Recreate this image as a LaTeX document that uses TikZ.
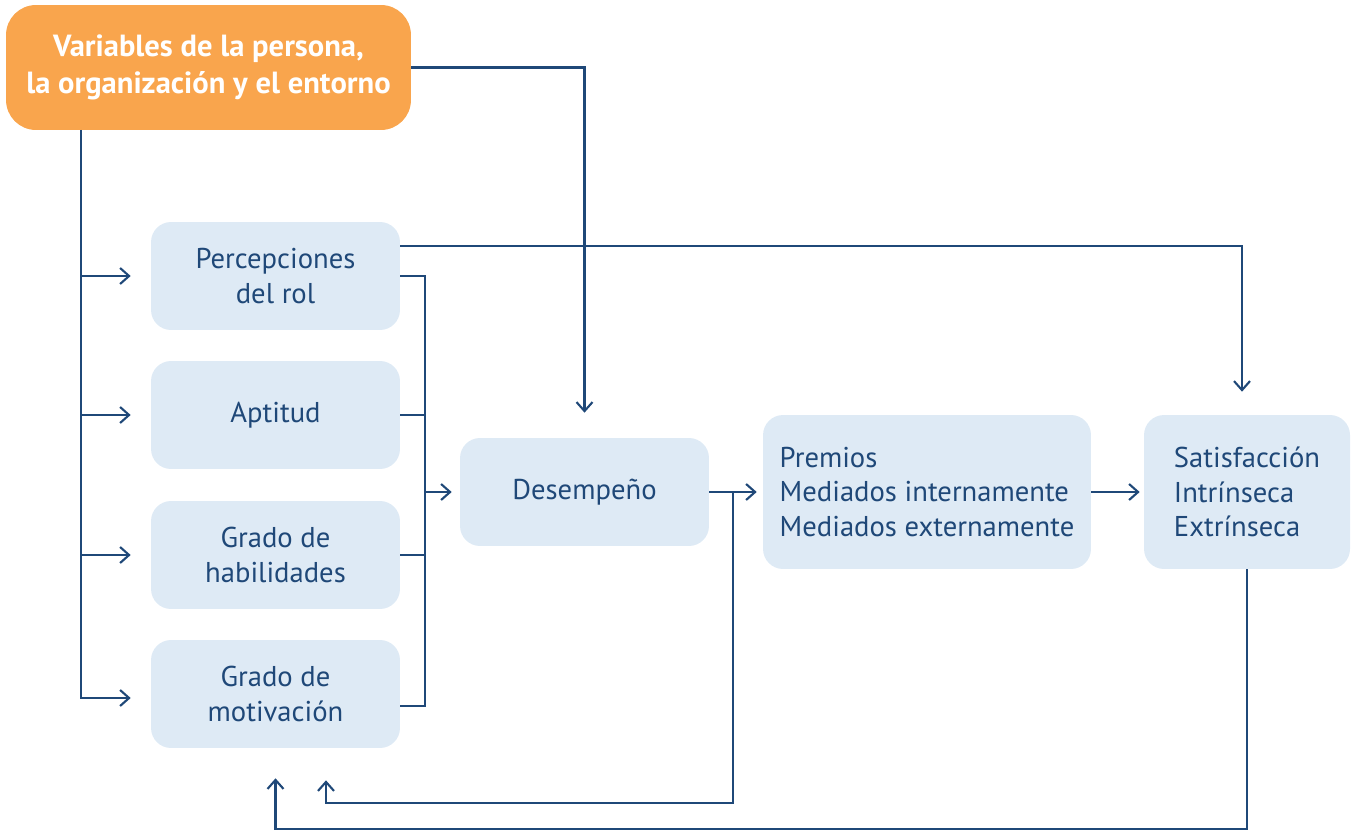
\documentclass[tikz,border=0pt]{standalone}
\usepackage{fontspec}
\setmainfont{PT Sans}
\usetikzlibrary{arrows.meta}
\definecolor{naranja}{HTML}{F9A54D}
\definecolor{celeste}{HTML}{DEEAF5}
\definecolor{azul}{HTML}{1F4878}
\begin{document}
\begin{tikzpicture}[x=0.02cm, y=-0.02cm,
		caja/.style={fill=celeste, rounded corners=0.4cm, text=azul, align=center,
			minimum width=4.98cm, minimum height=2.16cm, inner sep=0pt,
			font=\fontsize{16.3}{19.8}\selectfont},
		linea/.style={draw=azul, line width=1.2pt},
		flecha/.style={linea, -{Straight Barb[length=1.8mm, width=3.2mm]}}]
	\useasboundingbox (0,0) rectangle (1354,831);
	% cajas
	\node[fill=naranja, rounded corners=0.6cm, text=white, align=center,
		minimum width=8.1cm, minimum height=2.5cm, inner sep=0pt,
		font=\bfseries\fontsize{17.4}{20.8}\selectfont] (var) at (208.5,67.5)
		{Variables de la persona,\\la organización y el entorno};
	\node[caja] (per) at (275.5,276) {Percepciones\\del rol};
	\node[caja] (apt) at (275.5,415) {Aptitud};
	\node[caja] (hab) at (275.5,555) {Grado de\\habilidades};
	\node[caja] (mot) at (275.5,694) {Grado de\\motivación};
	\node[caja] (des) at (584.5,492) {Desempeño};
	\node[caja, minimum width=6.56cm, minimum height=3.08cm, align=left] (pre) at (927,492)
		{Premios\\Mediados internamente\\Mediados externamente};
	\node[caja, minimum width=4.12cm, minimum height=3.08cm, align=left] (sat) at (1247,492)
		{Satisfacción\\Intrínseca\\Extrínseca};
	% bus izquierdo
	\coordinate (bi) at (81,130);
	\draw[flecha] (bi) |- ([xshift=-0.4cm, yshift=-0.08cm]mot.west);
	\foreach \n in {per,apt,hab}
		\draw[flecha] (bi |- \n.west) -- ([xshift=-0.4cm]\n.west);
	% bus derecho
	\coordinate (bd) at (425,276);
	\draw[linea] (per.east) -| (bd |- 0,706) -- (mot.east |- 0,706);
	\foreach \n in {apt,hab}
		\draw[linea] (\n.east) -- (bd |- \n.east);
	\draw[flecha] (bd |- des.west) -- ([xshift=-0.16cm]des.west);
	% flechas superiores
	\draw[flecha] (var.east) -| ([yshift=0.5cm]des.north);
	\draw[flecha] ([yshift=0.6cm]per.east) -| ([xshift=-0.1cm, yshift=0.46cm]sat.north);
	% flujo principal
	\draw[flecha] (des.east) -- ([xshift=-0.12cm]pre.west);
	\draw[flecha] (pre.east) -- ([xshift=-0.08cm]sat.west);
	% retroalimentación
	\coordinate (r1) at (733,803);
	\draw[flecha] (r1 |- des.east) -- (r1) -| ([xshift=1.01cm, yshift=-0.64cm]mot.south);
	\draw[flecha] (sat.south) -- (sat.south |- 0,829) -| ([yshift=-0.6cm]mot.south);
\end{tikzpicture}
\end{document}
